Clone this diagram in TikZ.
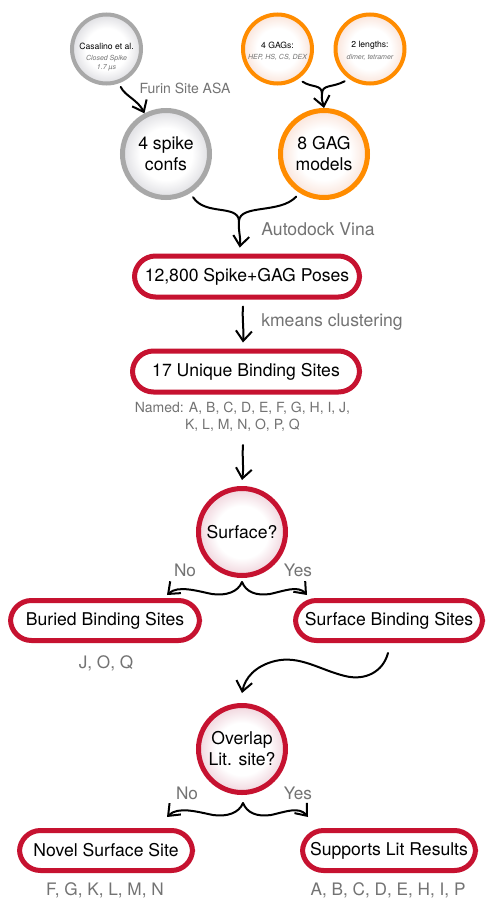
\documentclass[tikz,border=0pt]{standalone}
\usepackage{fontspec}
\setmainfont{TeX Gyre Heros}
\usetikzlibrary{arrows.meta,calc}
\definecolor{crim}{RGB}{198,18,48}
\definecolor{orng}{RGB}{255,140,0}
\definecolor{ringgray}{RGB}{168,168,168}
\definecolor{lgray}{RGB}{115,115,115}
\definecolor{edgegray}{RGB}{222,222,226}
\definecolor{edgered}{RGB}{240,212,220}
\definecolor{edgeorng}{RGB}{250,228,218}
\pgfdeclareradialshading{shgray}{\pgfpoint{0bp}{0bp}}{color(0bp)=(white); color(15bp)=(white); color(25bp)=(edgegray); color(50bp)=(edgegray)}
\pgfdeclareradialshading{shred}{\pgfpoint{0bp}{0bp}}{color(0bp)=(white); color(15bp)=(white); color(25bp)=(edgered); color(50bp)=(edgered)}
\pgfdeclareradialshading{shorng}{\pgfpoint{0bp}{0bp}}{color(0bp)=(white); color(15bp)=(white); color(25bp)=(edgeorng); color(50bp)=(edgeorng)}
\newcommand\fmain{\fontsize{8.8}{10.5}\selectfont}
\newcommand\flab{\fontsize{8.6}{10}\selectfont}
\newcommand\fsmall{\fontsize{7}{8.5}\selectfont}
\newcommand\ftiny{\fontsize{4.3}{5}\selectfont}
\newcommand\fsub{\fontsize{3.5}{4}\selectfont\itshape}
\begin{document}
\begin{tikzpicture}[x=0.5pt,y=-0.5pt,
  smallring/.style={circle, inner sep=0pt, minimum size=34.5pt, line width=2pt},
  bigring/.style={circle, inner sep=0pt, minimum size=43.5pt, line width=2.5pt, align=center, font=\fmain},
  pill/.style={draw=crim, line width=2.5pt, fill=white, rounded corners=10.5pt, minimum height=20.5pt, inner sep=0pt, font=\fmain},
  lab/.style={text=lgray, inner sep=0pt},
  arr/.style={draw=black, line width=1pt, line cap=round, line join=round, -{Straight Barb[length=5pt,width=8pt,line width=1pt]}},
  conn/.style={draw=black, line width=1pt, line cap=round}]
\fill[white] (0,0) rectangle (487,900);
\useasboundingbox (0,0) rectangle (487,900);

% top circles
\node[smallring, draw=ringgray, shading=shgray] (cas) at (106.5,49) {};
\node[inner sep=0pt, font=\ftiny] (cas1) at (106.5,46) {Casalino et al.};
\node[inner sep=0pt, font=\fsub, text=lgray] (cas2) at (106.5,59) {Closed Spike};
\node[inner sep=0pt, font=\fsub, text=lgray] (cas3) at (106.5,67.5) {1.7 µs};

\node[smallring, draw=orng, shading=shorng] (g4) at (277.5,49) {};
\node[inner sep=0pt, font=\ftiny] (g4a) at (277.5,45) {4 GAGs:};
\node[inner sep=0pt, font=\fsub, text=lgray] (g4b) at (277.5,57) {HEP, HS, CS, DEX};

\node[smallring, draw=orng, shading=shorng] (gl) at (370,49) {};
\node[inner sep=0pt, font=\ftiny] (gla) at (370,45) {2 lengths:};
\node[inner sep=0pt, font=\fsub, text=lgray] (glb) at (370,57) {dimer, tetramer};

\node[bigring, draw=ringgray, shading=shgray] (sc) at (166,154) {4 spike\\confs};
\node[bigring, draw=orng, shading=shorng] (gm) at (324,154) {8 GAG\\models};

\node[lab, font=\fsmall] (furin) at (185,88) {Furin Site ASA};
\node[lab, font=\fmain] (vina) at (318,229) {Autodock Vina};

% boxes
\node[pill, minimum width=112.5pt] (poses) at (247,276.5) {12,800 Spike+GAG Poses};
\node[lab, font=\fmain] (kmeans) at (332,322) {kmeans clustering};
\node[pill, minimum width=113.5pt] (uniq) at (246,371.5) {17 Unique Binding Sites};
\node[lab, font=\fsmall, align=center] (named) at (242.5,416.5) {Named: A, B, C, D, E, F, G, H, I, J,\\K, L, M, N, O, P, Q};

\node[bigring, draw=crim, shading=shred] (surf) at (242,532) {Surface?};
\node[lab, font=\flab] (no1) at (185,570) {No};
\node[lab, font=\flab] (yes1) at (298,570) {Yes};
\node[pill, minimum width=94.5pt, minimum height=20pt] (buried) at (105,620.5) {Buried Binding Sites};
\node[pill, minimum width=93.5pt, minimum height=20pt] (surfb) at (389,620.5) {Surface Binding Sites};
\node[lab, font=\flab] (joq) at (106,663) {J, O, Q};

\node[bigring, draw=crim, shading=shred] (ovl) at (242,749) {Overlap\\Lit. site?};
\node[lab, font=\flab] (no2) at (187,793) {No};
\node[lab, font=\flab] (yes2) at (298,793) {Yes};
\node[pill, minimum width=86.5pt, minimum height=20pt] (novel) at (106,850.5) {Novel Surface Site};
\node[pill, minimum width=86.5pt, minimum height=20pt] (supp) at (389,850.5) {Supports Lit Results};
\node[lab, font=\flab] (fg) at (105,890) {F, G, K, L, M, N};
\node[lab, font=\flab] (ab) at (388,890) {A, B, C, D, E, H, I, P};

% connectors
\draw[arr, shorten <=2pt] (cas.-70) .. controls (125,96) and (138,100) .. (sc.118);

\coordinate (gj) at (322,94);
\draw[conn, shorten <=2.5pt] (g4.-55) .. controls (312,88) and (322,84) .. (gj);
\draw[conn, shorten <=2.5pt] (gl.-125) .. controls (332,88) and (322,84) .. (gj);
\draw[arr] (gj) .. controls (321,99) and (323,103) .. (gm.north);

\coordinate (j2) at (239,221);
\draw[conn, shorten <=2.5pt] (sc.-58) .. controls (205,216) and (238,204) .. (j2);
\draw[conn, shorten <=2.5pt] (gm.-122) .. controls (280,214) and (240,204) .. (j2);
\draw[arr, shorten >=3pt] (j2) .. controls (238,230) and (241,238) .. (j2 |- poses.north);

\draw[arr] ($(poses.south)+(-4,7)$) .. controls (242,318) and (244,330) .. ($(uniq.north)+(-3,-6)$);
\draw[arr] ($(surf.north)+(1,-41)$) .. controls (242,458) and (244,468) .. ($(surf.north)+(0,-6)$);

\coordinate (sa) at ($(surf.south)+(0,4)$);
\draw[arr] (sa) .. controls (238,592) and (226,596) .. (212,594) .. controls (197,591) and (178,585) .. ($(buried.north)+(62,-3)$);
\draw[arr] (sa) .. controls (246,592) and (256,596) .. (270,594) .. controls (284,591) and (298,585) .. ($(surfb.north)+(-82,-3)$);

\draw[arr] ($(surfb.south)+(-1,10)$) .. controls (383,672) and (365,681) .. (345,676) .. controls (320,670) and (300,655) .. (275,661) .. controls (255,666) and (245,678) .. ($(ovl.north)+(0,-10)$);

\coordinate (oa) at ($(ovl.south)+(1,8)$);
\draw[arr] (oa) .. controls (239,813) and (227,817) .. (213,815) .. controls (198,812) and (178,806) .. ($(novel.north)+(61,-11)$);
\draw[arr] (oa) .. controls (247,813) and (257,817) .. (271,815) .. controls (285,812) and (299,806) .. ($(supp.north)+(-81,-11)$);
\end{tikzpicture}
\end{document}
